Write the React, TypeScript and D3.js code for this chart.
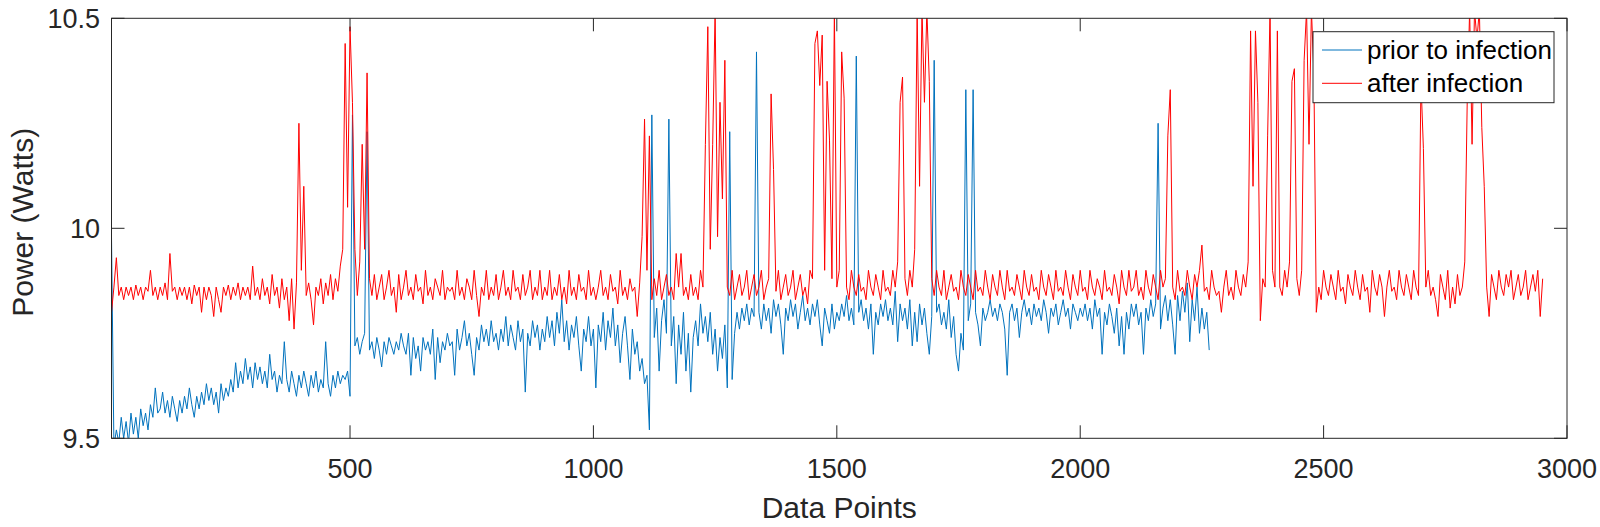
import * as d3 from 'd3';

// samples every STEP data points, starting at data point START
const START = 10;
const STEP = 5;

// prior to infection (blue)
const priorA = [
  9.98, 9.48, 9.52, 9.49, 9.55, 9.50, 9.54, 9.49, 9.56, 9.51, 9.55, 9.50, 9.57, 9.53, 9.56, 9.52, 9.58, 9.55, 9.62, 9.56,
  9.57, 9.61, 9.56, 9.59, 9.55, 9.60, 9.57, 9.54, 9.59, 9.56, 9.60, 9.57, 9.62, 9.58, 9.55, 9.60, 9.57, 9.61, 9.58, 9.63,
  9.59, 9.62, 9.58, 9.61, 9.56, 9.63, 9.59, 9.62, 9.60, 9.64, 9.61, 9.68, 9.62, 9.66, 9.63, 9.69, 9.64, 9.67, 9.62, 9.68,
  9.64, 9.67, 9.63, 9.66, 9.62, 9.70, 9.64, 9.66, 9.61, 9.65, 9.63, 9.73, 9.64, 9.61, 9.66, 9.63, 9.60, 9.65, 9.62, 9.66,
  9.63, 9.60, 9.65, 9.62, 9.66, 9.61, 9.64, 9.62, 9.73, 9.63, 9.60, 9.65, 9.62, 9.66, 9.63, 9.65, 9.64, 9.66, 9.60, 10.27,
];
const priorB = [
  9.72, 9.74, 9.70, 9.73, 9.75, 10.23, 9.71, 9.73, 9.69, 9.74, 9.71, 9.67, 9.73, 9.70, 9.74, 9.72, 9.70, 9.73, 9.71, 9.75,
  9.72, 9.70, 9.75, 9.65, 9.74, 9.69, 9.72, 9.66, 9.74, 9.71, 9.73, 9.70, 9.76, 9.64, 9.74, 9.68, 9.73, 9.71, 9.75, 9.72,
  9.73, 9.65, 9.76, 9.71, 9.74, 9.78, 9.72, 9.75, 9.70, 9.65, 9.74, 9.71, 9.77, 9.73, 9.76, 9.72, 9.78, 9.73, 9.75, 9.71,
  9.76, 9.73, 9.79, 9.72, 9.77, 9.74, 9.71, 9.78, 9.73, 9.76, 9.61, 9.75, 9.72, 9.78, 9.74, 9.77, 9.71, 9.76, 9.73, 9.79,
  9.74, 9.78, 9.72, 9.80, 9.75, 9.83, 9.73, 9.78, 9.71, 9.77, 9.74, 9.79, 9.72, 9.66, 9.76, 9.73, 9.79, 9.72, 9.76, 9.62,
];
const priorC = [
  9.77, 9.73, 9.80, 9.71, 9.78, 9.74, 9.81, 9.72, 9.77, 9.68, 9.75, 9.79, 9.72, 9.64, 9.76, 9.70, 9.73, 9.66, 9.69, 9.63,
  9.65, 9.52, 10.27, 9.74, 9.81, 9.66, 9.78, 9.83, 9.75, 10.26, 9.72, 9.79, 9.63, 9.77, 9.70, 9.80, 9.66, 9.75, 9.61, 9.74,
  9.78, 9.72, 9.82, 9.75, 9.79, 9.73, 9.80, 9.70, 9.76, 9.66, 9.74, 9.69, 9.77, 9.62, 10.23, 9.64, 9.75, 9.80, 9.76, 9.81,
  9.78, 9.82, 9.77, 9.81, 9.79, 10.42, 9.80, 9.76, 9.82, 9.78, 9.81, 9.75, 9.83, 9.79, 9.82, 9.77, 9.70, 9.81, 9.78, 9.83,
  9.79, 9.82, 9.76, 9.80, 9.84, 9.78, 9.81, 9.77, 9.82, 9.79, 9.83, 9.77, 9.72, 9.81, 9.78, 9.75, 9.82, 9.76, 9.80, 9.78,
];
const priorD = [
  9.82, 9.79, 9.84, 9.78, 9.81, 9.77, 10.41, 9.80, 9.83, 9.78, 9.81, 9.76, 9.82, 9.70, 9.80, 9.77, 9.82, 9.79, 9.83, 9.78,
  9.81, 9.77, 9.85, 9.73, 9.82, 9.78, 9.81, 9.76, 9.83, 9.72, 9.80, 9.73, 9.82, 9.77, 9.81, 9.75, 9.70, 9.79, 10.40, 9.80,
  9.82, 9.77, 9.80, 9.76, 9.83, 9.74, 9.79, 9.70, 9.66, 9.75, 9.71, 10.33, 9.78, 9.82, 10.33, 9.80, 9.77, 9.72, 9.81, 9.78,
  9.80, 9.83, 9.79, 9.81, 9.78, 9.82, 9.80, 9.76, 9.65, 9.80, 9.82, 9.78, 9.81, 9.74, 9.80, 9.83, 9.79, 9.81, 9.77, 9.82,
  9.79, 9.81, 9.78, 9.83, 9.80, 9.75, 9.81, 9.79, 9.82, 9.77, 9.80, 9.83, 9.79, 9.81, 9.76, 9.82, 9.80, 9.78, 9.81, 9.79,
];
const priorE = [
  9.82, 9.78, 9.81, 9.76, 9.83, 9.79, 9.81, 9.70, 9.80, 9.77, 9.82, 9.79, 9.75, 9.81, 9.72, 9.79, 9.70, 9.80, 9.76, 9.82,
  9.79, 9.82, 9.77, 9.80, 9.70, 9.81, 9.78, 9.83, 9.79, 9.82, 10.25, 9.76, 9.81, 9.84, 9.78, 9.83, 9.77, 9.70, 9.84, 9.78,
  9.85, 9.80, 9.87, 9.73, 9.83, 9.78, 9.86, 9.75, 9.81, 9.76, 9.80, 9.71,
];

// after infection (red)
const afterA = [
  9.80, 9.86, 9.93, 9.84, 9.86, 9.83, 9.86, 9.84, 9.86, 9.83, 9.865, 9.84, 9.86, 9.83, 9.86, 9.85, 9.90, 9.84, 9.86, 9.83,
  9.86, 9.84, 9.87, 9.83, 9.94, 9.85, 9.86, 9.83, 9.86, 9.84, 9.86, 9.83, 9.86, 9.82, 9.865, 9.84, 9.86, 9.80, 9.86, 9.83,
  9.86, 9.84, 9.79, 9.86, 9.83, 9.80, 9.86, 9.84, 9.865, 9.83, 9.86, 9.84, 9.87, 9.83, 9.86, 9.84, 9.86, 9.83, 9.91, 9.84,
  9.86, 9.83, 9.88, 9.84, 9.86, 9.82, 9.89, 9.84, 9.86, 9.81, 9.88, 9.83, 9.86, 9.78, 9.88, 9.76, 9.87, 10.25, 9.90, 10.10,
  9.84, 9.87, 9.83, 9.77, 9.86, 9.84, 9.88, 9.82, 9.87, 9.84, 9.89, 9.83, 9.88, 9.85, 9.91, 9.95, 10.44, 10.05, 10.48, 10.30,
];
const afterB = [
  9.95, 9.84, 9.92, 10.20, 9.95, 10.37, 9.88, 9.84, 9.89, 9.83, 9.86, 9.89, 9.83, 9.86, 9.90, 9.84, 9.86, 9.80, 9.89, 9.83,
  9.86, 9.90, 9.84, 9.86, 9.83, 9.89, 9.85, 9.86, 9.82, 9.90, 9.84, 9.86, 9.83, 9.88, 9.86, 9.84, 9.90, 9.83, 9.86, 9.85,
  9.86, 9.83, 9.90, 9.84, 9.86, 9.83, 9.88, 9.86, 9.83, 9.90, 9.84, 9.79, 9.86, 9.84, 9.90, 9.83, 9.86, 9.84, 9.89, 9.83,
  9.86, 9.90, 9.84, 9.86, 9.83, 9.90, 9.85, 9.86, 9.83, 9.89, 9.84, 9.86, 9.90, 9.83, 9.86, 9.84, 9.90, 9.83, 9.86, 9.84,
  9.90, 9.83, 9.86, 9.84, 9.89, 9.83, 9.86, 9.82, 9.90, 9.84, 9.86, 9.83, 9.89, 9.85, 9.86, 9.83, 9.90, 9.84, 9.86, 9.83,
];
const afterC = [
  9.86, 9.90, 9.84, 9.86, 9.83, 9.89, 9.85, 9.86, 9.82, 9.90, 9.84, 9.86, 9.83, 9.88, 9.85, 9.86, 9.79, 9.87, 9.98, 10.26,
  9.90, 10.22, 9.83, 9.88, 9.84, 9.90, 9.83, 9.86, 9.89, 9.84, 9.86, 9.83, 9.94, 9.86, 9.94, 9.84, 9.86, 9.83, 9.89, 9.84,
  9.86, 9.83, 9.90, 9.86, 10.20, 10.48, 9.95, 10.20, 10.52, 9.98, 10.30, 10.07, 10.40, 9.86, 9.84, 9.90, 9.83, 9.86, 9.89, 9.84,
  9.86, 9.90, 9.83, 9.86, 9.89, 9.84, 9.86, 9.90, 9.83, 9.86, 9.88, 10.32, 10.14, 9.85, 9.90, 9.83, 9.86, 9.89, 9.84, 9.86,
  9.90, 9.83, 9.86, 9.89, 9.84, 9.86, 9.82, 9.90, 9.88, 10.44, 10.47, 10.34, 10.46, 9.90, 10.35, 10.21, 9.88, 10.52, 9.86, 9.90,
];
const afterD = [
  10.42, 10.31, 9.86, 9.83, 9.90, 9.86, 9.84, 9.89, 9.85, 9.86, 9.83, 9.90, 9.86, 9.84, 9.89, 9.86, 9.83, 9.90, 9.85, 9.86,
  9.84, 9.90, 9.86, 9.92, 10.30, 10.36, 9.88, 9.84, 9.90, 9.86, 9.95, 10.52, 10.10, 10.52, 10.30, 10.52, 10.35, 9.88, 9.84, 9.90,
  9.86, 9.84, 9.90, 9.83, 9.86, 9.89, 9.85, 9.86, 9.83, 9.90, 9.86, 9.84, 9.89, 9.86, 9.83, 9.90, 9.85, 9.86, 9.84, 9.90,
  9.86, 9.83, 9.89, 9.86, 9.84, 9.90, 9.86, 9.83, 9.90, 9.85, 9.86, 9.84, 9.89, 9.86, 9.83, 9.90, 9.86, 9.84, 9.89, 9.85,
  9.86, 9.83, 9.90, 9.86, 9.84, 9.89, 9.86, 9.83, 9.90, 9.85, 9.86, 9.84, 9.90, 9.86, 9.83, 9.89, 9.86, 9.84, 9.90, 9.85,
];
const afterE = [
  9.86, 9.83, 9.90, 9.86, 9.84, 9.88, 9.86, 9.83, 9.90, 9.85, 9.86, 9.84, 9.89, 9.86, 9.82, 9.90, 9.86, 9.84, 9.90, 9.85,
  9.86, 9.90, 9.84, 9.86, 9.83, 9.90, 9.86, 9.84, 9.89, 9.86, 9.83, 9.90, 9.86, 9.88, 10.22, 10.33, 9.86, 9.83, 9.90, 9.85,
  9.86, 9.84, 9.90, 9.86, 9.83, 9.89, 9.86, 9.90, 9.96, 9.85, 9.86, 9.83, 9.90, 9.86, 9.84, 9.85, 9.80, 9.86, 9.90, 9.84,
  9.86, 9.83, 9.90, 9.86, 9.84, 9.89, 9.86, 9.92, 10.47, 10.10, 10.47, 10.30, 9.78, 9.88, 9.86, 10.22, 10.52, 9.90, 9.86, 10.47,
  9.86, 9.84, 9.90, 9.86, 9.92, 10.35, 10.38, 9.88, 9.84, 9.90, 10.40, 10.52, 10.20, 10.52, 10.37, 9.80, 9.86, 9.83, 9.90, 9.86,
];
const afterF = [
  9.84, 9.89, 9.86, 9.83, 9.90, 9.85, 9.86, 9.82, 9.89, 9.86, 9.84, 9.90, 9.86, 9.83, 9.89, 9.85, 9.86, 9.80, 9.90, 9.86,
  9.84, 9.89, 9.86, 9.79, 9.86, 9.90, 9.85, 9.86, 9.83, 9.90, 9.86, 9.84, 9.89, 9.86, 9.83, 9.90, 9.86, 9.84, 10.35, 10.19,
  9.86, 9.90, 9.84, 9.86, 9.83, 9.79, 9.89, 9.86, 9.83, 9.90, 9.81, 9.86, 9.82, 9.89, 9.84, 9.86, 9.92, 10.30, 10.52, 10.20,
  10.52, 10.45, 10.52, 10.24, 10.10, 9.86, 9.79, 9.89, 9.86, 9.83, 9.90, 9.86, 9.84, 9.89, 9.86, 9.90, 9.83, 9.86, 9.89, 9.84,
  9.86, 9.90, 9.83, 9.86, 9.89, 9.85, 9.90, 9.79, 9.88,
];

const priorToInfection = [...priorA, ...priorB, ...priorC, ...priorD, ...priorE];
const afterInfection = [...afterA, ...afterB, ...afterC, ...afterD, ...afterE, ...afterF];

const xTicks = [500, 1000, 1500, 2000, 2500, 3000];
const yTicks = [9.5, 10, 10.5];
const seriesNames = ['prior to infection', 'after infection'];
const seriesColors = ['#0072BD', '#FF0000'];

const FONT = '"Liberation Sans", Arial, Helvetica, sans-serif';
const INK = '#262626';

export default function App() {
  const W = 1600;
  const H = 527;
  const left = 111.5, right = 1567, top = 18.3, bottom = 438.3;

  const x = d3.scaleLinear().domain([10, 3000]).range([left, right]);
  const y = d3.scaleLinear().domain([9.5, 10.5]).range([bottom, top]);
  const line = d3.line<number>()
    .x((_, i) => x(START + i * STEP))
    .y(d => y(d));

  const series = [priorToInfection, afterInfection];
  const tick = 13;

  return (
    <svg width={W} height={H} style={{ position: 'absolute', left: 0, top: 0, background: '#fff' }}
      fontFamily={FONT}>
      <defs>
        <clipPath id="plot">
          <rect x={left} y={top} width={right - left} height={bottom - top} />
        </clipPath>
      </defs>
      <rect x={0} y={0} width={W} height={H} fill="#fff" />
      <g clipPath="url(#plot)">
        {series.map((s, k) => (
          <path key={k} d={line(s) ?? ''} fill="none" stroke={seriesColors[k]} strokeWidth={1} />
        ))}
      </g>
      {/* frame */}
      <rect x={left} y={top} width={right - left} height={bottom - top} fill="none" stroke={INK} strokeWidth={1} />
      {xTicks.map(t => (
        <g key={t}>
          <line x1={x(t)} x2={x(t)} y1={bottom} y2={bottom - tick} stroke={INK} />
          <line x1={x(t)} x2={x(t)} y1={top} y2={top + tick} stroke={INK} />
          <text x={x(t)} y={478} fontSize={27} textAnchor="middle" fill={INK}>{t}</text>
        </g>
      ))}
      {yTicks.map(t => (
        <g key={t}>
          <line x1={left} x2={left + tick} y1={y(t)} y2={y(t)} stroke={INK} />
          <line x1={right} x2={right - tick} y1={y(t)} y2={y(t)} stroke={INK} />
          <text x={100} y={y(t)} dy="0.36em" fontSize={27} textAnchor="end" fill={INK}>{d3.format('')(t)}</text>
        </g>
      ))}
      <text x={(left + right) / 2} y={518} fontSize={30} textAnchor="middle" fill={INK}>Data Points</text>
      <text transform={`translate(33,${(top + bottom) / 2 - 6}) rotate(-90)`} fontSize={30} textAnchor="middle"
        fill={INK}>Power (Watts)</text>
      {/* legend */}
      <g>
        <rect x={1313} y={31.7} width={241} height={71} fill="#fff" stroke={INK} strokeWidth={1} />
        {seriesNames.map((name, k) => (
          <g key={name} transform={`translate(0,${50 + k * 33.3})`}>
            <line x1={1322} x2={1362} y1={0} y2={0} stroke={seriesColors[k]} strokeWidth={1} />
            <text x={1367} y={0} dy="0.35em" fontSize={26} fill="#000">{name}</text>
          </g>
        ))}
      </g>
    </svg>
  );
}
